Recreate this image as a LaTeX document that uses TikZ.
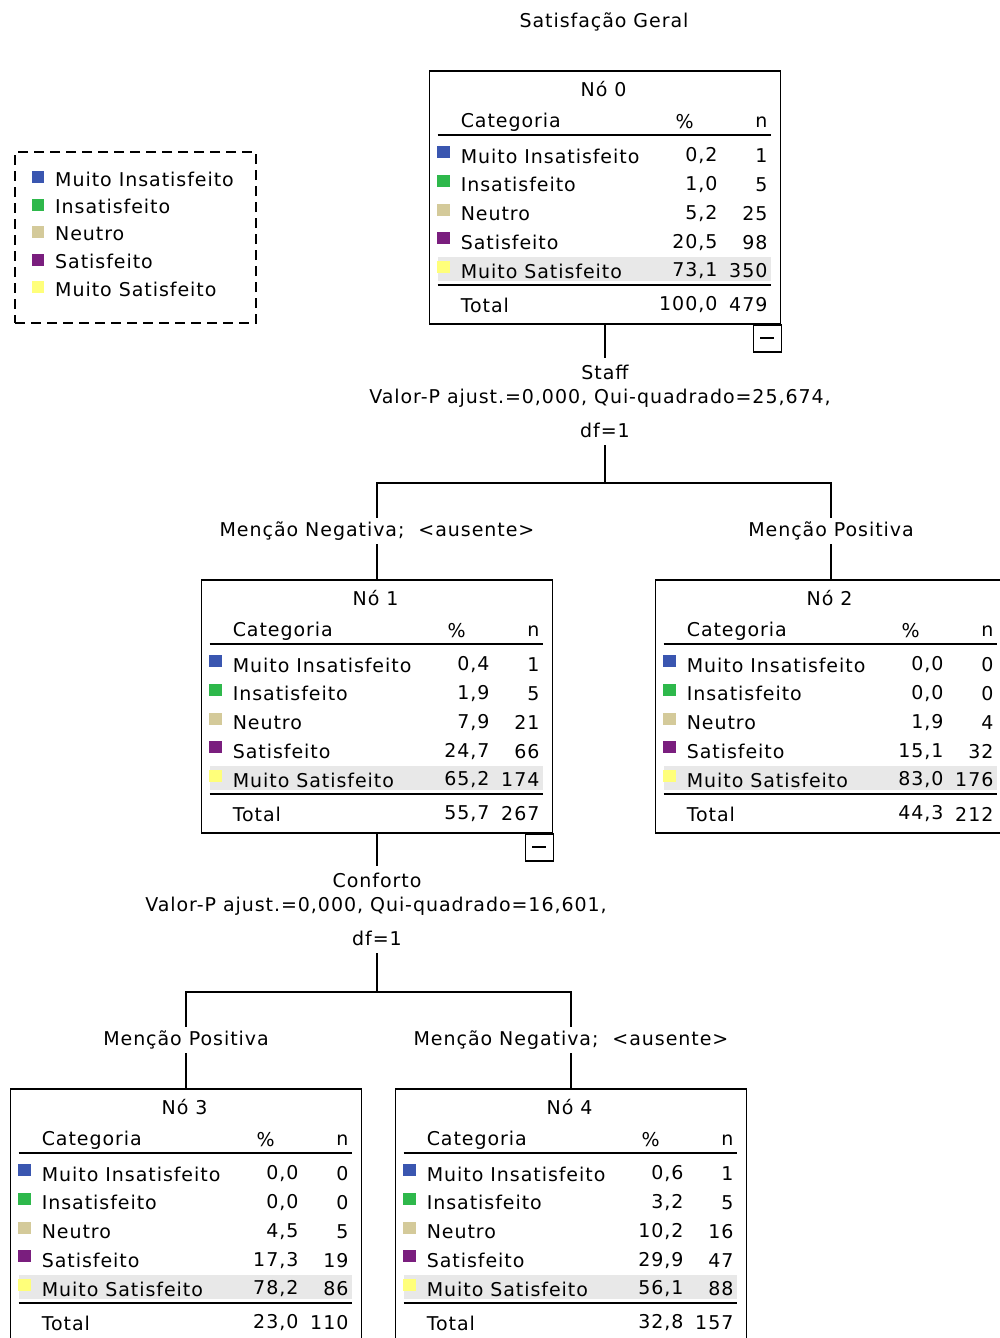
\documentclass[tikz,border=0pt]{standalone}
\usepackage{fontspec}
\setmainfont{DejaVu Sans}[LetterSpace=5]
\usetikzlibrary{positioning}

\definecolor{cat1}{RGB}{58,86,176}
\definecolor{cat2}{RGB}{46,184,75}
\definecolor{cat3}{RGB}{212,202,154}
\definecolor{cat4}{RGB}{122,30,126}
\definecolor{cat5}{RGB}{255,255,122}
\definecolor{realce}{RGB}{232,232,232}

\tikzset{
  txt/.style={inner sep=0pt},
  caixa/.style={draw,line width=1.8pt,minimum width=351pt,minimum height=253pt,inner sep=0pt},
  regua/.style={line width=1.8pt},
  ramo/.style={line width=1.8pt},
  rotulo/.style={inner sep=0pt,minimum height=26pt},
  legenda/.style={draw,line width=1.8pt,dash pattern=on 10pt off 6pt,minimum width=241pt,minimum height=171pt}
}

\newcommand{\catnome}[1]{\ifcase#1\or Muito Insatisfeito\or Insatisfeito\or Neutro\or Satisfeito\or Muito Satisfeito\fi}

% #1 no, #2 titulo, #3 linhas pct/n, #4 total pct, #5 total n
\newcommand{\tabela}[5]{%
\begin{scope}[shift={(#1.north west)}]
  \fill[realce] (9,187) rectangle (342,211);
  \node[txt] (#1-tit) at (175,19) {#2};
  \node[txt,anchor=west] (#1-cab) at (32,52) {Categoria};
  \node[txt] (#1-pc) at (256,52) {\%};
  \node[txt,anchor=east] (#1-nc) at (339,52) {n};
  \draw[regua] (9,65) -- (342,65);
  \foreach \p/\n [count=\i] in {#3} {
    \pgfmathsetmacro\yy{86+(\i-1)*28.75}
    \fill[cat\i] (8,\yy-10) rectangle +(13,12);
    \node[txt,anchor=west] (#1-c\i) at (32,\yy) {\catnome{\i}};
    \node[txt,anchor=east] (#1-p\i) at (289,\yy) {\p};
    \node[txt,anchor=east] (#1-n\i) at (339,\yy) {\n};
  }
  \draw[regua,line width=2.6pt] (9,215) -- (342,215);
  \node[txt,anchor=west] (#1-tot) at (32,235) {Total};
  \node[txt,anchor=east] (#1-tp) at (289,235) {#4};
  \node[txt,anchor=east] (#1-tn) at (339,235) {#5};
\end{scope}}

% botao de recolher
\newcommand{\recolher}[1]{%
  \draw[regua] (#1.south east) rectangle +(-28,27);
  \draw[regua] ($(#1.south east)+(-21,13.5)$) -- +(14,0);}

\usetikzlibrary{calc}

\begin{document}
\begin{tikzpicture}[x=1pt,y=-1pt,font=\fontsize{19}{22}\selectfont]
\useasboundingbox (0,0) rectangle (1000,1338);
\clip (0,0) rectangle (1000,1338);

\node[txt] (titulo) at (604,22) {Satisfação Geral};

% legenda
\node[legenda] (leg) at (135.5,237.5) {};
\foreach \i in {1,...,5} {
  \pgfmathsetmacro\yy{179+(\i-1)*27.5}
  \fill[cat\i] (32,\yy-8) rectangle +(12,12);
  \node[txt,anchor=west] (leg-\i) at (55,\yy) {\catnome{\i}};
}

% nos
\node[caixa,anchor=north] (n0) at (605,70)   {};
\node[caixa,anchor=north] (n1) at (377,579)  {};
\node[caixa,anchor=north] (n2) at (831,579)  {};
\node[caixa,anchor=north] (n3) at (186,1088) {};
\node[caixa,anchor=north] (n4) at (571,1088) {};

\tabela{n0}{Nó 0}{0{,}2/1, 1{,}0/5, 5{,}2/25, 20{,}5/98, 73{,}1/350}{100{,}0}{479}
\tabela{n1}{Nó 1}{0{,}4/1, 1{,}9/5, 7{,}9/21, 24{,}7/66, 65{,}2/174}{55{,}7}{267}
\tabela{n2}{Nó 2}{0{,}0/0, 0{,}0/0, 1{,}9/4, 15{,}1/32, 83{,}0/176}{44{,}3}{212}
\tabela{n3}{Nó 3}{0{,}0/0, 0{,}0/0, 4{,}5/5, 17{,}3/19, 78{,}2/86}{23{,}0}{110}
\tabela{n4}{Nó 4}{0{,}6/1, 3{,}2/5, 10{,}2/16, 29{,}9/47, 56{,}1/88}{32{,}8}{157}

\recolher{n0}
\recolher{n1}

% divisao do no 0
\node[rotulo,minimum height=28pt] (st0) at (605,372) {Staff};
\node[txt] (vp0) at (600,398) {Valor-P ajust.=0,000, Qui-quadrado=25,674,};
\node[rotulo,minimum height=30pt] (df0) at (605,430) {df=1};
\coordinate (b0) at (605,483);
\node[rotulo] (r1) at (377,531) {Menção Negativa;\ \ <ausente>};
\node[rotulo] (r2) at (831,531) {Menção Positiva};

\draw[ramo] (n0.south) -- (st0.north);
\draw[ramo] (df0.south) -- (b0);
\draw[ramo] (r1.north) |- (b0) -| (r2.north);
\draw[ramo] (r1.south) -- (n1.north);
\draw[ramo] (r2.south) -- (n2.north);

% divisao do no 1
\node[rotulo,minimum height=28pt] (st1) at (377,880) {Conforto};
\node[txt] (vp1) at (376,906) {Valor-P ajust.=0,000, Qui-quadrado=16,601,};
\node[rotulo,minimum height=30pt] (df1) at (377,938) {df=1};
\coordinate (b1) at (377,992);
\node[rotulo] (r3) at (186,1040) {Menção Positiva};
\node[rotulo] (r4) at (571,1040) {Menção Negativa;\ \ <ausente>};

\draw[ramo] (n1.south) -- (st1.north);
\draw[ramo] (df1.south) -- (b1);
\draw[ramo] (r3.north) |- (b1) -| (r4.north);
\draw[ramo] (r3.south) -- (n3.north);
\draw[ramo] (r4.south) -- (n4.north);
\end{tikzpicture}
\end{document}
